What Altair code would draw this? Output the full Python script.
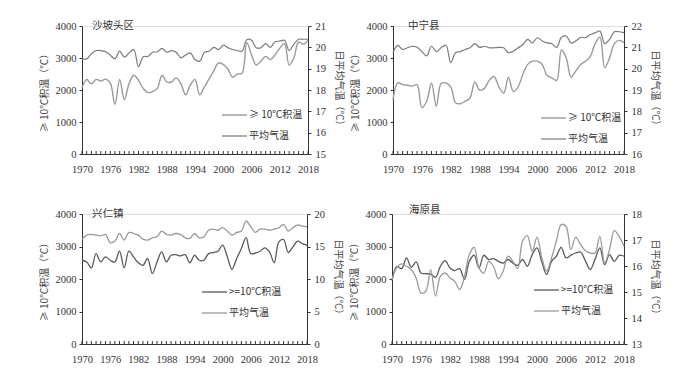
import altair as alt
import pandas as pd

years = list(range(1970, 2019))
year_labels = [1970, 1976, 1982, 1988, 1994, 2000, 2006, 2012, 2018]

# 沙坡头区
acc1 = [2067, 2330, 2190, 2330, 2280, 2340, 2220, 1550, 2330, 1700,
        2200, 2460, 2300, 2050, 1920, 1950, 2050, 2460, 2250, 2250,
        2380, 2200, 1850, 2150, 2330, 1850, 2100, 2350, 2600, 2850,
        2800, 2650, 2400, 2500, 2520, 3480, 3100, 2780, 2900, 3050,
        2950, 3100, 3300, 3450, 2780, 3000, 3500, 3430, 3560]
tmp1 = [19.46, 19.46, 19.70, 19.85, 19.85, 19.79, 19.64, 19.46, 19.82, 19.54,
        19.74, 19.90, 19.09, 19.56, 19.57, 19.77, 19.79, 19.95, 19.77, 19.85,
        19.77, 19.51, 19.64, 19.74, 19.43, 19.35, 19.77, 19.82, 20.00, 19.90,
        20.10, 19.98, 19.90, 19.85, 19.82, 20.36, 20.33, 19.98, 19.98, 20.17,
        20.00, 20.26, 20.29, 20.33, 19.85, 20.15, 20.38, 20.38, 20.38]

# 中宁县
acc2 = [1700, 2225, 2170, 2150, 2120, 2170, 1450, 1650, 2220, 1490,
        2200, 2220, 2100, 1600, 1570, 1650, 1750, 2250, 2000, 2050,
        2300, 2420, 2100, 1900, 2400, 1950, 2100, 2500, 2800, 2900,
        2900, 2800, 2450, 2380, 2300, 3250, 3000, 2400, 2600, 2800,
        2900, 3050, 3450, 3650, 2700, 3000, 3450, 3550, 3480]
tmp2 = [20.75, 21.09, 20.90, 20.98, 21.05, 21.00, 20.80, 20.60, 21.05, 20.80,
        20.98, 21.10, 20.28, 20.75, 20.80, 20.90, 20.98, 21.17, 21.00, 21.05,
        20.98, 20.98, 21.00, 20.98, 20.75, 20.82, 20.98, 21.13, 21.37, 21.21,
        21.45, 21.30, 21.21, 21.17, 21.00, 21.47, 21.53, 21.20, 21.30, 21.47,
        21.45, 21.60, 21.68, 21.76, 21.17, 21.37, 21.73, 21.73, 21.68]

# 兴仁镇
acc3 = [2577, 2525, 2340, 2780, 2525, 2680, 2577, 2525, 2855, 2340,
        2855, 2680, 2500, 2420, 2630, 2165, 2525, 2835, 2525, 2730,
        2750, 2710, 2750, 2500, 2730, 2577, 2577, 2780, 2815, 2855,
        3040, 2680, 2300, 2630, 2940, 3270, 2780, 2800, 2855, 2960,
        2835, 2500, 3145, 3215, 2815, 2990, 3165, 3090, 3040]
tmp3 = [16.10, 16.75, 16.86, 16.75, 16.65, 16.86, 15.60, 15.80, 17.00, 15.98,
        17.17, 17.00, 16.75, 16.13, 15.98, 16.34, 16.50, 17.37, 16.86, 16.75,
        17.00, 16.86, 16.34, 16.24, 17.00, 16.34, 16.50, 17.50, 17.68, 17.50,
        17.89, 17.37, 16.75, 17.17, 17.37, 18.92, 18.04, 17.17, 17.68, 17.68,
        17.50, 17.68, 17.89, 18.40, 17.37, 17.89, 18.30, 18.15, 18.04]

# 海原县
acc4 = [1950, 2390, 2320, 2650, 2360, 2525, 2185, 2165, 2150, 2050,
        2390, 2565, 2340, 2260, 2320, 1980, 2545, 2730, 2340, 2730,
        2600, 2625, 2545, 2490, 2600, 2490, 2420, 2600, 2390, 2750,
        2955, 2525, 2135, 2545, 2700, 2975, 2650, 2730, 2800, 2830,
        2565, 2290, 2600, 2955, 2440, 2750, 2545, 2730, 2700]
tmp4 = [15.48, 15.95, 16.08, 15.99, 15.86, 15.54, 14.96, 15.03, 15.86, 14.84,
        15.60, 15.73, 15.54, 15.41, 15.09, 15.60, 16.44, 16.72, 15.93, 15.73,
        16.18, 15.99, 15.51, 15.80, 16.38, 16.18, 15.90, 16.95, 17.17, 16.56,
        17.11, 16.31, 15.80, 16.31, 16.95, 17.59, 17.53, 16.63, 17.11, 16.83,
        16.59, 16.50, 16.50, 17.14, 16.11, 16.63, 17.36, 17.14, 16.76]

LEFT_TITLE = "≥ 10℃积温（℃）"
RIGHT_TITLE = "日平均气温（℃）"
NUM_FONT = "Times New Roman"
CJK_FONT = "Noto Sans CJK SC"

COMMON = dict(grid=False, labelFont=NUM_FONT, labelFontSize=10.5, labelColor="#333",
              domainColor="#333", tickColor="#333", labelOverlap=False, labelFlush=False,
              titleFont=CJK_FONT, titleFontSize=10, titleFontWeight="normal",
              titleColor="#444")


def panel(name, acc, tmp, tdom, tticks, w, h, title_xy, leg_x, leg_y, acc_label,
          acc_color, tmp_color, acc_w, tmp_w):
    df = pd.DataFrame({"year": years, "acc": acc, "temp": tmp})
    base = alt.Chart(df)
    xaxis = alt.Axis(values=year_labels, format="d", title=None, ticks=False,
                     labelPadding=10, **COMMON)
    xscale = alt.Scale(domain=[1970, 2018], nice=False, zero=False)

    def xenc():
        return alt.X("year:Q", scale=xscale, axis=xaxis)

    l_acc = base.mark_line(interpolate="catmull-rom", color=acc_color, strokeWidth=acc_w).encode(
        x=xenc(),
        y=alt.Y("acc:Q", scale=alt.Scale(domain=[0, 4000], nice=False),
                axis=alt.Axis(values=[0, 1000, 2000, 3000, 4000], format="d", title=LEFT_TITLE,
                              tickSize=3, labelPadding=3, titlePadding=6, **COMMON)),
    )
    l_tmp = base.mark_line(interpolate="catmull-rom", color=tmp_color, strokeWidth=tmp_w).encode(
        x=xenc(),
        y=alt.Y("temp:Q", scale=alt.Scale(domain=tdom, nice=False, zero=False),
                axis=alt.Axis(values=tticks, format="d", title=RIGHT_TITLE, orient="right",
                              tickSize=3, labelPadding=4, titlePadding=8, **COMMON)),
    )
    tick_df = pd.DataFrame({"year": years})
    ticks = alt.Chart(tick_df).mark_rule(color="#333", strokeWidth=1).encode(
        x=xenc(), y=alt.value(h), y2=alt.value(h - 3))
    one = alt.Data(values=[{"a": 1}])
    ttl = alt.Chart(one).mark_text(text=name, font=CJK_FONT, fontSize=10.5, color="#333",
                                   align="left", baseline="middle").encode(
        x=alt.value(title_xy[0]), y=alt.value(title_xy[1]))
    leg1 = alt.Chart(one).mark_rule(color=acc_color, strokeWidth=acc_w).encode(
        x=alt.value(leg_x), x2=alt.value(leg_x + 25), y=alt.value(leg_y))
    leg2 = alt.Chart(one).mark_rule(color=tmp_color, strokeWidth=tmp_w).encode(
        x=alt.value(leg_x), x2=alt.value(leg_x + 25), y=alt.value(leg_y + 21))
    lt1 = alt.Chart(one).mark_text(text=acc_label, font=CJK_FONT, fontSize=10, color="#333",
                                   align="left", baseline="middle").encode(
        x=alt.value(leg_x + 27), y=alt.value(leg_y))
    lt2 = alt.Chart(one).mark_text(text="平均气温", font=CJK_FONT, fontSize=10, color="#333",
                                   align="left", baseline="middle").encode(
        x=alt.value(leg_x + 27), y=alt.value(leg_y + 21))
    return alt.layer(l_acc, l_tmp, ticks, ttl, leg1, leg2, lt1, lt2).resolve_scale(
        y="independent").properties(width=w, height=h)


p1 = panel("沙坡头区", acc1, tmp1, [15, 21], [15, 16, 17, 18, 19, 20, 21], 226, 128,
           (10, 0), 140, 89, "≥ 10℃积温", "#9a9a9a", "#7a7a7a", 1.4, 1.2)
p2 = panel("中宁县", acc2, tmp2, [16, 22], [16, 17, 18, 19, 20, 21, 22], 231, 128,
           (15, 0), 148, 92, "≥ 10℃积温", "#9a9a9a", "#7a7a7a", 1.4, 1.2)
p3 = panel("兴仁镇", acc3, tmp3, [0, 20], [0, 5, 10, 15, 20], 225, 130,
           (10, 0), 120, 78, ">=10℃积温", "#5a5a5a", "#9a9a9a", 1.3, 1.3)
p4 = panel("海原县", acc4, tmp4, [13, 18], [13, 14, 15, 16, 17, 18], 232, 130,
           (17, -4), 142, 76, ">=10℃积温", "#5a5a5a", "#9a9a9a", 1.3, 1.3)

chart = alt.vconcat(
    alt.hconcat(p1, p2, spacing=5),
    alt.hconcat(p3, p4, spacing=5),
    spacing=29,
).properties(padding={"left": 30, "top": 12, "right": 5, "bottom": 5}).configure_view(
    stroke=None).configure(background="white")

chart.save("out.html", embed_options={"renderer": "svg", "actions": False})
